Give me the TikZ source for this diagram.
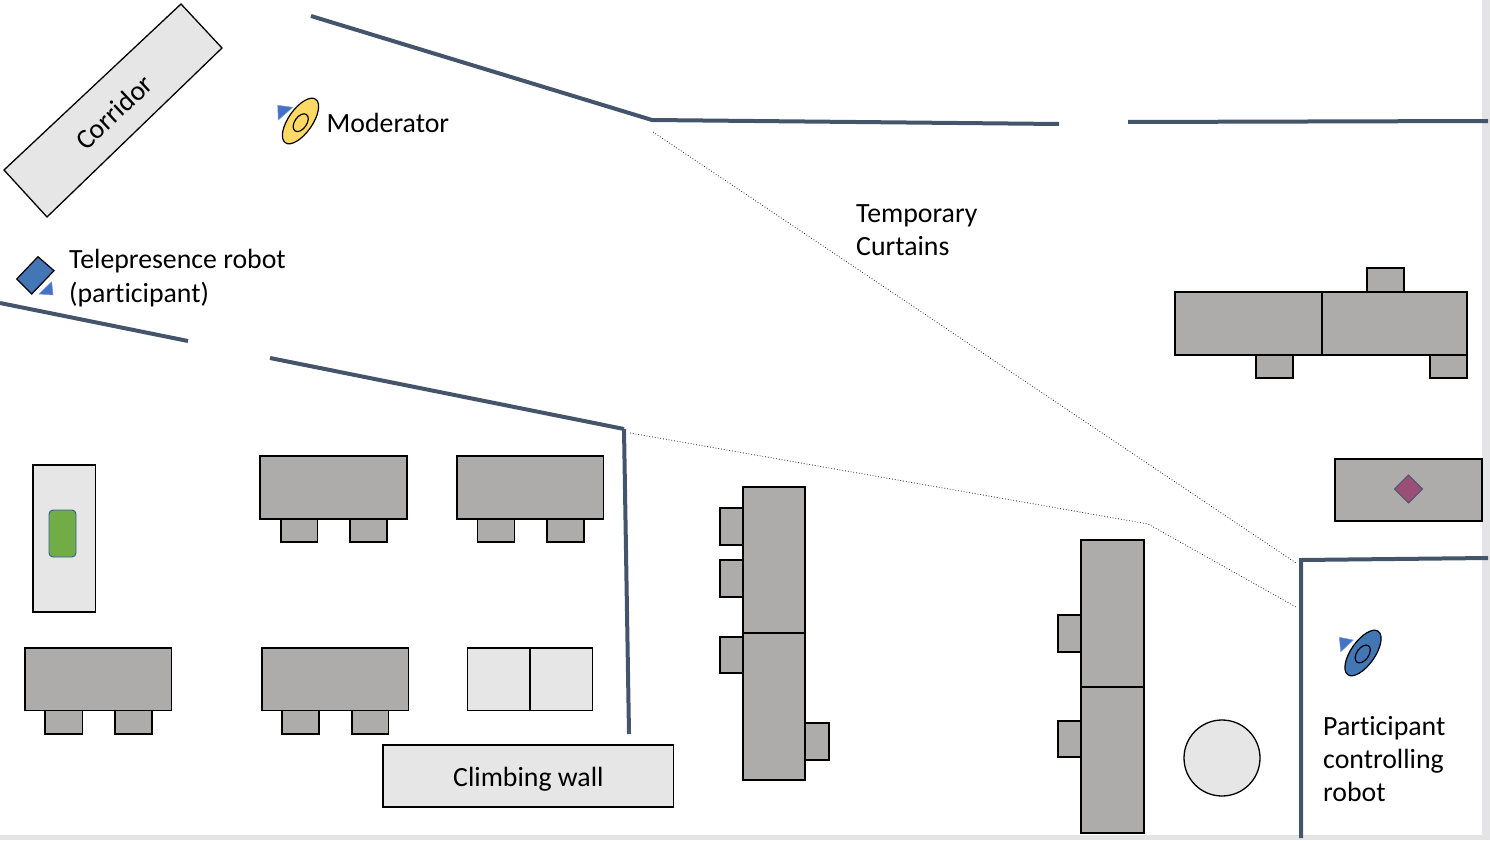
\documentclass[tikz,border=0pt]{standalone}
\usepackage{fontspec}
\setmainfont[RawFeature={-liga;-clig}]{Carlito}
\definecolor{wallc}{HTML}{44546A}
\definecolor{furn}{HTML}{AEABAB}
\definecolor{lightf}{HTML}{E7E6E6}
\definecolor{blu}{HTML}{4472C4}
\definecolor{robotb}{HTML}{4276B5}
\definecolor{yel}{HTML}{FFD966}
\definecolor{grn}{HTML}{70AD47}
\definecolor{mag}{HTML}{9B4F78}
\definecolor{edgeg}{HTML}{E4E4E6}
\tikzset{
  wall/.style={draw=wallc,line width=4pt,line join=miter},
  curtain/.style={draw=black!85,line width=0.8pt,dotted},
  furniture/.style={draw=black,line width=1.3pt,fill=furn},
  lightbox/.style={draw=black,line width=1.3pt,fill=lightf},
  marker/.style={fill=blu,draw=blu!70!white,line width=0.5pt},
  lbl/.style={font=\fontsize{27.8}{33}\selectfont,align=left,inner sep=0pt,anchor=base west,text=black}
}
\newcommand{\Furn}[4]{\path[furniture] (#1,#2) rectangle (#3,#4);}
\newcommand{\Lite}[4]{\path[lightbox] (#1,#2) rectangle (#3,#4);}
\begin{document}
\begin{tikzpicture}[x=1pt,y=-1pt]
\useasboundingbox (0,0) rectangle (1490,840);
% page edge
\fill[edgeg] (1482,0) rectangle (1490,840);
\fill[edgeg] (0,835) rectangle (1490,840);
% corridor
\path[lightbox] (181,4) -- (222,48) -- (47,217) -- (4,170) -- cycle;
\node[lbl,anchor=center,rotate=43] (corridor) at (114,112) {Corridor};
% walls
\draw[wall] (311,16) -- (652,120) -- (1059,124);
\draw[wall] (1128,122) -- (1488,121);
\draw[wall] (0,303) -- (188,341);
\draw[wall] (270,358) -- (624,429);
\draw[wall] (624,429) -- (629,734);
\draw[wall] (1301,838) -- (1301,560) -- (1488,558);
% curtains
\draw[curtain] (653,132) -- (1296,563);
\draw[curtain] (630,433) -- (1148,524) -- (1296,607);
% top right benches
\Furn{1367}{268}{1404}{292}
\Furn{1175}{292}{1322}{355}
\Furn{1322}{292}{1467}{355}
\Furn{1256}{355}{1293}{378}
\Furn{1430}{355}{1467}{378}
% right table
\Furn{1335}{459}{1482}{521}
\path[fill=mag,draw=wallc,line width=0.9pt] (1408.5,475) -- (1422.5,489) -- (1408.5,503) -- (1394.5,489) -- cycle;
% tall bench right
\Furn{1081}{540}{1144}{687}
\Furn{1081}{687}{1144}{833}
\Furn{1058}{615}{1081}{652}
\Furn{1058}{721}{1081}{757}
\path[lightbox] (1222,758) circle (38);
% middle bench
\Furn{743}{487}{805}{633}
\Furn{743}{633}{805}{780}
\Furn{720}{508}{743}{545}
\Furn{720}{560}{743}{597}
\Furn{720}{637}{743}{673}
\Furn{805}{723}{829}{760}
% climbing wall
\Lite{383}{745}{673.5}{807}
\node[lbl] (climb) at (453,786) {Climbing wall};
% light pair
\Lite{467.5}{648}{530}{710.5}
\Lite{530}{648}{592.5}{710.5}
% tables
\Furn{260}{456}{407}{519}
\Furn{281}{519}{317.5}{542}
\Furn{350}{519}{387}{542}
\Furn{457}{456}{603.5}{519}
\Furn{477.5}{519}{514.5}{542}
\Furn{547}{519}{584}{542}
\Furn{25}{648}{171.5}{710.5}
\Furn{45}{710.5}{82.5}{734}
\Furn{115}{710.5}{152}{734}
\Furn{262}{648}{408.5}{710.5}
\Furn{282}{710.5}{319}{734}
\Furn{352}{710.5}{388.5}{734}
% green table
\Lite{33}{465}{95.5}{612}
\path[fill=grn,draw=blu!80!black,line width=0.9pt,rounded corners=4pt] (49,510) rectangle (76,557);
% robot
\path[fill=robotb,draw=black,line width=1.2pt] (38,256.7) -- (54,270.7) -- (31.7,294) -- (16.7,279) -- cycle;
\path[marker] (51.7,281.7) -- (53,295) -- (39,294) -- cycle;
% moderator
\path[marker] (277.7,105.3) -- (292.7,107.3) -- (278.3,120) -- cycle;
\path[fill=yel,draw=black,line width=1.2pt] (300.5,121) ellipse[x radius=26.5,y radius=12,rotate=55];
\path[draw=black,line width=1.2pt] (300.7,122.7) ellipse[x radius=10,y radius=6,rotate=55];
% participant
\path[marker] (1339.3,637.3) -- (1353.3,640) -- (1340.7,651.7) -- cycle;
\path[fill=robotb,draw=black,line width=1.2pt] (1363,653) ellipse[x radius=26.5,y radius=12,rotate=55];
\path[draw=black,line width=1.2pt] (1362.7,654) ellipse[x radius=10,y radius=6,rotate=55];
% labels
\node[lbl] (moderator) at (326.5,132.5) {Moderator};
\node[lbl] (telepresence) at (69,302) {Telepresence robot\\[1pt](participant)};
\node[lbl] (curtains) at (856,255) {Temporary\\Curtains};
\node[lbl] (controller) at (1323,801) {Participant\\controlling\\robot};
\end{tikzpicture}
\end{document}
